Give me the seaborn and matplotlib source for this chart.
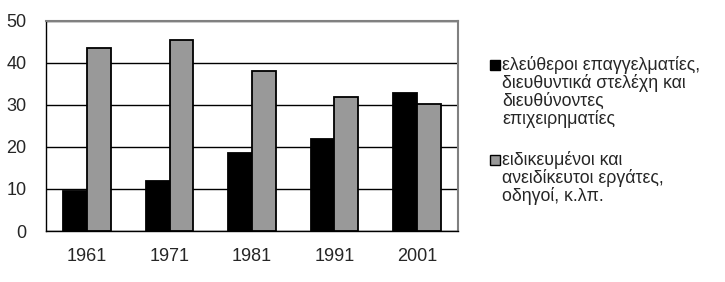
import matplotlib
matplotlib.use("Agg")
import matplotlib.pyplot as plt
import seaborn as sns
import pandas as pd
from matplotlib.patches import Rectangle
from matplotlib.ticker import FixedLocator

years = ["1961", "1971", "1981", "1991", "2001"]
group_lines = [
    ["ελεύθεροι επαγγελματίες,", "διευθυντικά στελέχη και", "διευθύνοντες", "επιχειρηματίες"],
    ["ειδικευμένοι και", "ανειδίκευτοι εργάτες,", "οδηγοί, κ.λπ."],
]
group_labels = ["\n".join(g) for g in group_lines]
professionals = [9.5, 11.9, 18.5, 21.9, 32.7]
workers = [43.5, 45.4, 38.1, 31.8, 30.1]
colors = ["#000000", "#999999"]

df = pd.DataFrame({
    "year": years * 2,
    "value": professionals + workers,
    "group": [group_labels[0]] * len(years) + [group_labels[1]] * len(years),
})

sns.set_style("white")
plt.rcParams["font.family"] = ["Liberation Sans", "DejaVu Sans"]

W, H = 725, 282
fig = plt.figure(figsize=(W / 100, H / 100), dpi=100)
ax = fig.add_axes([46 / W, 1 - 231 / H, (458 - 46) / W, (231 - 20.7) / H])

sns.barplot(data=df, x="year", y="value", hue="group", palette=colors,
            edgecolor="black", linewidth=1.3, width=0.58, ax=ax,
            legend=False, zorder=3)

ax.set_ylim(0, 50)
ax.set_xlim(-0.5, 4.5)
ax.set_yticks([0, 10, 20, 30, 40, 50])
ax.yaxis.grid(True, color="black", linewidth=1.0, zorder=0)
ax.set_axisbelow(True)
ax.set_xlabel("")
ax.set_ylabel("")

ax.tick_params(axis="x", which="major", length=0, labelsize=13, pad=12)
ax.xaxis.set_minor_locator(FixedLocator([-0.5, 0.5, 1.5, 2.5, 3.5, 4.5]))
ax.tick_params(axis="x", which="minor", length=5, width=1, color="black", direction="out")
ax.tick_params(axis="y", length=5, width=1, color="black", direction="out", labelsize=13, pad=9)

for s in ["left", "bottom"]:
    ax.spines[s].set_color("black")
    ax.spines[s].set_linewidth(1.0)
for s in ["top", "right"]:
    ax.spines[s].set_color("#808080")
    ax.spines[s].set_linewidth(1.5)
    ax.spines[s].set_visible(True)

# legend, drawn by hand so the key squares align with the first text line
entry_first_baseline = [70, 165]
line_step = 18
for color, lines, base in zip(colors, group_lines, entry_first_baseline):
    fig.patches.append(Rectangle((490 / W, 1 - (base) / H), 10 / W, 10 / H,
                                 facecolor=color, edgecolor="black", linewidth=1.0,
                                 transform=fig.transFigure, figure=fig))
    for i, line in enumerate(lines):
        fig.text(502 / W, 1 - (base + i * line_step) / H, line, fontsize=12.8,
                 ha="left", va="baseline")

fig.savefig("out.png", dpi=100)
